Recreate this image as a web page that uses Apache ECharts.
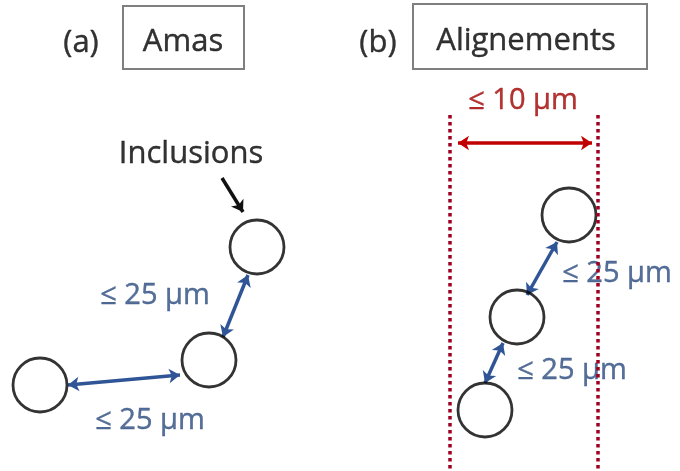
<!DOCTYPE html>
<html><head><meta charset="utf-8">
<script src="https://cdn.jsdelivr.net/npm/echarts@6/dist/echarts.min.js"></script>
<style>html,body{margin:0;padding:0;background:#fff}#c{width:680px;height:471px}</style>
</head><body><div id="c"></div>
<script>
// Diagram drawn in a pixel-like coordinate space (x: 0..680, y: 0..471 downward)
const circlesA = [[257,247],[209,360],[40,385]];
const circlesB = [[569,215],[517,317],[485,410]];
const blueArrows = [
  [[248,275],[223,337]],
  [[68,385],[180,375]],
  [[557,242],[527,295]],
  [[503,343],[485,383]]
];
const blackArrow = [[[222,178],[243,212]]];
const redArrow = [[[458,143],[592,143]]];
const redDotted = [[[450,115],[450,471]], [[598,115],[598,471]]];
const boxes = [[123,6,244,69],[413,4,647,69]];
const blackTexts = [["(a)",81,43],["Amas",183,42],["(b)",378,43],["Alignements",526,41],["Inclusions",191,154]];
const blueTexts = [["≤ 25 µm",155,296],["≤ 25 µm",150,421],["≤ 25 µm",617,274],["≤ 25 µm",572,371]];
const redTexts = [["≤ 10 µm",523,101]];

const FONT = '"Open Sans"';
function textSeries(arr, color, size){
  return {
    type:'scatter', symbolSize:1, itemStyle:{color:'rgba(0,0,0,0)'}, silent:true,
    data: arr.map(t=>({value:[t[1],t[2]], name:t[0]})),
    label:{show:true, position:'inside', formatter:p=>p.name, color:color, fontSize:size, fontFamily:FONT, align:'center', verticalAlign:'middle', textBorderColor:color, textBorderWidth:0.4},
    z:3
  };
}
function linesSeries(arr, color, width, sym, type, z){
  return {
    type:'lines', coordinateSystem:'cartesian2d', silent:true, z:z||4,
    symbol: sym, symbolSize: 11,
    lineStyle:{color:color, width:width, type:type||'solid', opacity:1},
    data: arr.map(c=>({coords:c}))
  };
}
const chart = echarts.init(document.getElementById('c'), null, {renderer:'canvas'});
chart.setOption({
  animation:false,
  backgroundColor:'#fff',
  grid:{left:0,right:0,top:0,bottom:0},
  xAxis:{type:'value',min:0,max:680,show:false},
  yAxis:{type:'value',min:0,max:471,inverse:true,show:false},
  series:[
    {
      type:'custom', silent:true, z:2,
      data: boxes,
      renderItem:(params, api)=>{
        const p1 = api.coord([api.value(0), api.value(1)]);
        const p2 = api.coord([api.value(2), api.value(3)]);
        return {type:'rect', shape:{x:p1[0],y:p1[1],width:p2[0]-p1[0],height:p2[1]-p1[1]},
          style:{fill:'#fff', stroke:'#7f7f7f', lineWidth:2}};
      }
    },
    textSeries(blackTexts,'#000',31),
    textSeries(blueTexts,'#2B4B7E',29),
    textSeries(redTexts,'#A00000',29),
    {
      type:'scatter', symbol:'circle', symbolSize:54, silent:true, z:5,
      itemStyle:{color:'rgba(255,255,255,0)', borderColor:'#000', borderWidth:2.8},
      data: circlesA.concat(circlesB)
    },
    linesSeries(blueArrows,'#2F5597',3.5,['arrow','arrow']),
    linesSeries(blackArrow,'#111',3.5,['none','arrow']),
    linesSeries(redArrow,'#C00000',3.5,['arrow','arrow']),
    linesSeries(redDotted,'#A00020',3.5,['none','none'],'dotted',6)
  ]
});
</script></body></html>
